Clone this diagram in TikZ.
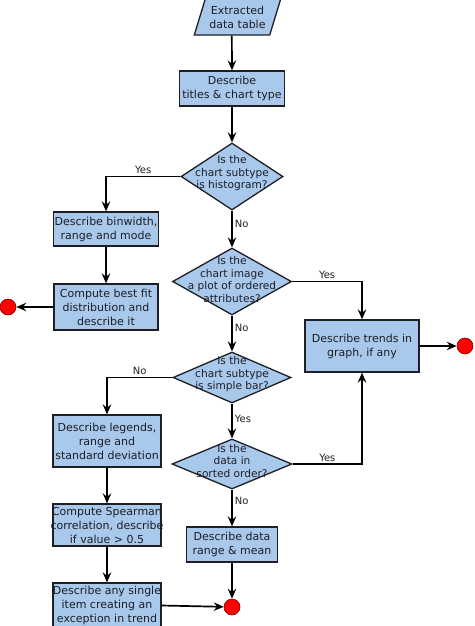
\documentclass[tikz,border=0pt]{standalone}
\usepackage{fontspec}
\setmainfont{DejaVu Sans}
\usetikzlibrary{shapes.geometric,arrows.meta}
\definecolor{boxblue}{HTML}{A8C8EC}
\definecolor{inkline}{HTML}{1E1E24}

\begin{document}
\begin{tikzpicture}[
        x=1pt, y=-1pt,
        >={Stealth[length=10pt,width=8.5pt,inset=3.5pt]},
        box/.style={
            draw=inkline, line width=1.3pt, fill=boxblue,
            inner xsep=-3pt, inner ysep=0pt, align=center, text=inkline,
            font=\fontsize{11}{14}\selectfont
        },
        io/.style={box, inner xsep=0pt, trapezium, trapezium left angle=67,
            trapezium right angle=113, trapezium stretches=true},
        decision/.style={box, diamond, inner sep=0pt},
        every label/.style={align=center, text=inkline,
            font=\fontsize{10.6}{12.5}\selectfont},
        stop/.style={circle, fill=red, draw=red!50!black, line width=0.6pt,
            minimum size=16pt, inner sep=0pt},
        flow/.style={->, line width=1.7pt, draw=black},
        lbl/.style={font=\fontsize{10}{11}\selectfont, text=inkline, inner sep=2pt}
    ]
    \useasboundingbox (0,0) rectangle (474,626);
    \clip (0,0) rectangle (474,626);

    % 1. Entrada
    \node[io, minimum width=87pt, minimum height=36pt] (table) at (237.5,17)
        {Extracted\\data table};
    \node[box, minimum width=105pt, minimum height=35pt] (titles) at (232,88.5)
        {Describe\\titles \& chart type};
    \draw[flow] (table.bottom side) -- (titles.north);

    % 2. Histograma
    \node[decision, minimum width=102pt, minimum height=67pt,
        label={[yshift=3pt]center:Is the\\chart subtype\\is histogram?}] (hist) at (232,176.5) {};
    \draw[flow] (titles.south) -- (hist.north);

    \node[box, minimum width=105pt, minimum height=34pt] (binwidth) at (106,229)
        {Describe binwidth,\\range and mode};
    \node[box, minimum width=104pt, minimum height=46pt] (bestfit) at (106,307)
        {Compute best fit\\distribution and\\describe it};
    \node[stop] (endleft) at (8,307) {};

    \draw[flow] (hist.west) -| (binwidth.north) node[lbl, pos=0.25, above] {Yes};
    \draw[flow] (binwidth.south) -- (bestfit.north);
    \draw[flow] (bestfit.west) -- (endleft);

    % 3. Atributos ordenados
    \node[decision, minimum width=119pt, minimum height=67pt,
        label={[yshift=2pt]center:Is the\\chart image\\a plot of ordered\\attributes?}] (ordered) at (232,281.5) {};
    \draw[flow] (hist.south) -- (ordered.north) node[lbl, pos=0.35, right] {No};

    \node[box, minimum width=114pt, minimum height=52pt] (trends) at (362,346)
        {Describe trends in\\graph, if any};
    \node[stop] (endright) at (465,346) {};

    \draw[flow] (ordered.east) -| (trends.north) node[lbl, pos=0.25, above] {Yes};
    \draw[flow] (trends.east) -- (endright);

    % 4. Barra simple
    \node[decision, minimum width=118pt, minimum height=51pt,
        label={[yshift=3pt]center:Is the\\chart subtype\\is simple bar?}] (simplebar) at (232,377.5) {};
    \draw[flow] (ordered.south) -- (simplebar.north) node[lbl, pos=0.35, right] {No};

    \node[box, minimum width=108pt, minimum height=52pt] (legends) at (107,441)
        {Describe legends,\\range and\\standard deviation};
    \node[box, minimum width=108pt, minimum height=42pt] (spearman) at (107,525)
        {Compute Spearman\\correlation, describe\\if value > 0.5};
    \node[box, minimum width=108pt, minimum height=45pt] (single) at (107,605.5)
        {Describe any single\\item creating an\\exception in trend};

    \draw[flow] (simplebar.west) -| (legends.north) node[lbl, pos=0.25, above] {No};
    \draw[flow] (legends.south) -- (spearman.north);
    \draw[flow] (spearman.south) -- (single.north);

    % 5. Orden
    \node[decision, minimum width=120pt, minimum height=50pt,
        label={[yshift=3pt]center:Is the\\data in\\sorted order?}] (sorted) at (232,464) {};
    \draw[flow] (simplebar.south) -- (sorted.north) node[lbl, pos=0.45, right] {Yes};
    \draw[flow] (sorted.east) -| (trends.south) node[lbl, pos=0.25, above] {Yes};

    \node[box, minimum width=91pt, minimum height=35pt] (datarange) at (232,544.5)
        {Describe data\\range \& mean};
    \node[stop] (endbottom) at (232,607) {};

    \draw[flow] (sorted.south) -- (datarange.north) node[lbl, pos=0.3, right] {No};
    \draw[flow] (datarange.south) -- (endbottom);
    \draw[flow] (single.east) -- (endbottom);

\end{tikzpicture}
\end{document}
